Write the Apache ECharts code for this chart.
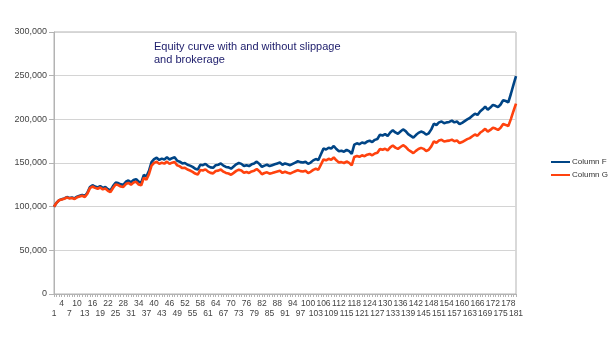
<!DOCTYPE html>
<html>
<head>
<meta charset="utf-8">
<script src="https://cdn.jsdelivr.net/npm/echarts@6/dist/echarts.min.js"></script>
<style>html,body{margin:0;padding:0;background:#fff}#c{width:615px;height:344px}</style>
</head>
<body>
<div id="c"></div>
<script>
const titleText = "Equity curve with and without slippage\nand brokerage";
const seriesNames = ["Column F", "Column G"];
const yTicks = [0, 50000, 100000, 150000, 200000, 250000, 300000];

const columnF = [
100000,104500,107500,108500,109500,111000,110000,110500,109500,111500,
112500,113500,112000,116000,122500,124500,123000,122000,123500,121500,
122500,120000,118500,123500,127500,127000,125500,125000,128500,130000,
128000,130500,131500,128500,127500,136500,134500,141000,151000,154500,
156000,153500,155000,154000,156500,154000,155500,156500,152500,151500,
149500,150000,148000,147000,145500,143500,142500,148000,147500,149000,
146500,145000,144500,147500,148000,149500,147000,145500,145000,143500,
146000,148500,150000,149000,146500,147500,146500,148500,149500,151500,
149000,145500,147000,148000,146500,147500,148500,149500,150500,148000,
149500,148500,147500,149000,150500,152000,151000,150500,151500,149000,
150500,153000,154500,153500,160000,166500,165500,167500,166500,169500,
166000,163500,164000,163000,165000,163500,160500,171000,172500,171500,
173500,172500,174500,175500,174000,176500,177500,182500,181500,183000,
181000,185000,187500,185000,183500,186000,188500,186500,183000,181000,
179000,182000,184500,186000,185000,182500,184000,188500,195000,193500,
196500,197500,195500,196500,197000,198500,196500,197500,194500,196000,
198000,200000,201500,204000,206500,205000,209000,211500,214500,211000,
213500,216500,215500,214000,217000,222000,221000,219500,229000,239500,
249500];

const columnG = [
100000,104400,107300,108200,109100,110500,109500,109900,108800,110700,
111600,112500,111000,114900,121200,123100,121500,120500,121900,119800,
120700,118200,116600,121400,125300,124700,123100,122500,125900,127300,
125200,127600,128500,125400,124400,133100,131000,137200,146900,150200,
151500,149000,150300,149300,151600,149000,150400,151200,147300,146200,
144200,144500,142500,141400,139900,137900,136800,142000,141400,142700,
140200,138700,138100,140900,141300,142600,140100,138600,138000,136500,
138700,141000,142300,141300,138800,139700,138600,140400,141200,143000,
140600,137100,138500,139300,137800,138600,139500,140300,141100,138700,
140000,138900,137900,139200,140500,141800,140700,140200,141000,138600,
139900,142100,143400,142300,148200,154100,153100,154800,153800,156400,
153100,150700,151000,150000,151700,150200,147400,156900,158100,157100,
158800,157800,159500,160300,158800,160900,161700,166100,165100,166300,
164400,167900,170000,167600,166200,168300,170400,168500,165200,163300,
161300,163900,166000,167300,166200,163800,165100,169000,174700,173200,
175700,176500,174600,175300,175600,176800,174900,175700,172900,174000,
175700,177300,178500,180600,182600,181200,184600,186600,189100,185900,
187900,190400,189400,187900,190400,194600,193600,192200,200300,209300,
217900];

const categories = columnF.map((_, i) => String(i + 1));

const chart = echarts.init(document.getElementById('c'), null, {renderer: 'canvas'});
chart.setOption({
  animation: false,
  backgroundColor: '#ffffff',
  title: {
    text: titleText,
    left: 149, top: 35,
    textStyle: {fontFamily: 'Liberation Sans', fontSize: 11, fontWeight: 'normal', color: '#1b1b6a', lineHeight: 13}
  },
  legend: {
    orient: 'vertical', left: 546, top: 153,
    itemWidth: 19, itemHeight: 2, itemGap: 5, icon: 'rect',
    textStyle: {fontFamily: 'Liberation Sans', fontSize: 8, color: '#333', padding: [0,0,0,-3]},
    data: seriesNames
  },
  grid: {left: 54, right: 99, top: 32, bottom: 50, show: true, borderColor: '#b3b3b3', borderWidth: 1, containLabel: false},
  xAxis: {
    type: 'category', data: categories, boundaryGap: false,
    axisLine: {lineStyle: {color: '#b3b3b3'}},
    axisTick: {show: true, interval: 0, length: 3, lineStyle: {color: '#b3b3b3'}},
    axisLabel: {
      interval: 0,
      formatter: (v, i) => (i % 3 !== 0 ? '' : (i % 6 === 0 ? '\n' + v : v)),
      fontFamily: 'Liberation Sans', fontSize: 8.5, color: '#444', lineHeight: 10, margin: 5,
      hideOverlap: false
    },
    splitLine: {show: false}
  },
  yAxis: {
    type: 'value', min: yTicks[0], max: yTicks[yTicks.length - 1], interval: yTicks[1] - yTicks[0],
    axisLine: {show: true, lineStyle: {color: '#b3b3b3'}},
    axisTick: {show: true, length: 5, lineStyle: {color: '#b3b3b3'}},
    axisLabel: {
      formatter: (v) => v.toLocaleString('en-US'),
      fontFamily: 'Liberation Sans', fontSize: 9, color: '#444', margin: 7
    },
    splitLine: {lineStyle: {color: '#d4d4d4'}}
  },
  series: [
    {name: seriesNames[0], type: 'line', data: columnF, showSymbol: false, color: '#004586', lineStyle: {width: 2.6, color: '#004586'}},
    {name: seriesNames[1], type: 'line', data: columnG, showSymbol: false, color: '#ff420e', lineStyle: {width: 2.6, color: '#ff420e'}}
  ]
});
</script>
</body>
</html>
